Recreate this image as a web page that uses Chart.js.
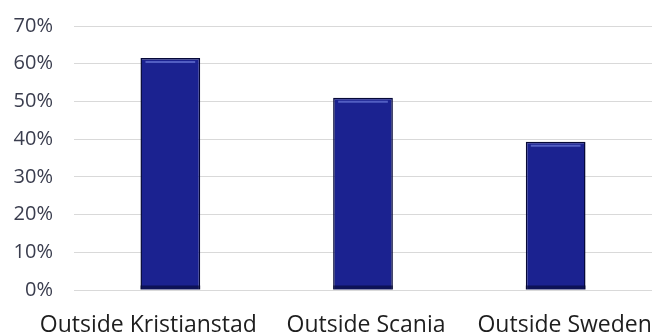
<!DOCTYPE html>
<html>
<head>
<meta charset="utf-8">
<title>Share of respondents by origin</title>
<script src="https://cdn.jsdelivr.net/npm/chart.js@4"></script>
<style>
    html, body { margin: 0; padding: 0; background: #ffffff; }
    #wrap { width: 654px; height: 334px; position: relative; }
</style>
</head>
<body>
<div id="wrap"><canvas id="originChart"></canvas></div>
<script>
// Chart data
const categories = ['Outside Kristianstad', 'Outside Scania', 'Outside Sweden'];
const shares = [61.5, 51, 39.3];
const yTicks = [0, 10, 20, 30, 40, 50, 60, 70];

// Category names sit a little off their bar centres (long first name pulled left)
const labelNudge = [-22, 3, 9];

const categoryLabels = {
    id: 'categoryLabels',
    afterDraw(chart) {
        const ctx = chart.ctx;
        const xScale = chart.scales.x;
        ctx.save();
        ctx.font = '23px "Open Sans"';
        ctx.fillStyle = '#1e1e1e';
        ctx.textAlign = 'center';
        ctx.textBaseline = 'alphabetic';
        categories.forEach((name, i) => {
            ctx.fillText(name, xScale.getPixelForValue(i) + labelNudge[i], chart.height - 2);
        });
        ctx.restore();
    }
};

// Thin light line just under the top of each bar, darker band at the foot
const barHighlight = {
    id: 'barHighlight',
    afterDatasetsDraw(chart) {
        const ctx = chart.ctx;
        chart.getDatasetMeta(0).data.forEach(bar => {
            const half = bar.width / 2;
            ctx.save();
            ctx.strokeStyle = 'rgba(105, 120, 215, 0.7)';
            ctx.lineWidth = 2;
            ctx.beginPath();
            ctx.moveTo(bar.x - half + 5, bar.y + 4);
            ctx.lineTo(bar.x + half - 5, bar.y + 4);
            ctx.stroke();
            ctx.fillStyle = 'rgba(5, 8, 50, 0.6)';
            ctx.fillRect(bar.x - half, bar.base - 4, bar.width, 4);
            ctx.restore();
        });
    }
};

// Darker sides, brighter middle
function barFill(context) {
    const el = context.element;
    if (!el || !el.width) return '#1b2290';
    const g = context.chart.ctx.createLinearGradient(el.x - el.width / 2, 0, el.x + el.width / 2, 0);
    g.addColorStop(0, '#0c1060');
    g.addColorStop(0.12, '#181f88');
    g.addColorStop(0.5, '#1c2394');
    g.addColorStop(0.88, '#181f88');
    g.addColorStop(1, '#090c52');
    return g;
}

const ctx = document.getElementById('originChart').getContext('2d');
new Chart(ctx, {
    type: 'bar',
    data: {
        labels: categories,
        datasets: [{
            data: shares,
            backgroundColor: barFill,
            borderColor: '#060938',
            borderWidth: 1.5,
            barPercentage: 0.62,
            categoryPercentage: 0.5
        }]
    },
    options: {
        responsive: true,
        maintainAspectRatio: false,
        animation: false,
        layout: { padding: { top: 26, right: 2, left: 0, bottom: 0 } },
        plugins: {
            legend: { display: false },
            tooltip: { enabled: false }
        },
        scales: {
            x: {
                grid: { display: false },
                border: { display: false },
                ticks: { display: false },
                afterFit: scale => { scale.height = 44; }
            },
            y: {
                min: 0,
                max: 70,
                afterBuildTicks: scale => { scale.ticks = yTicks.map(v => ({ value: v })); },
                grid: { color: '#d9d9d9', lineWidth: 1, drawTicks: false },
                border: { display: false },
                ticks: {
                    color: '#3a3d4e',
                    font: { family: 'Open Sans', size: 20 },
                    padding: 21,
                    callback: v => v + '%'
                },
                afterFit: scale => {
                    scale.width = 74;
                    scale.paddingTop = 0;
                    scale.paddingBottom = 0;
                }
            }
        }
    },
    plugins: [barHighlight, categoryLabels]
});
</script>
</body>
</html>
